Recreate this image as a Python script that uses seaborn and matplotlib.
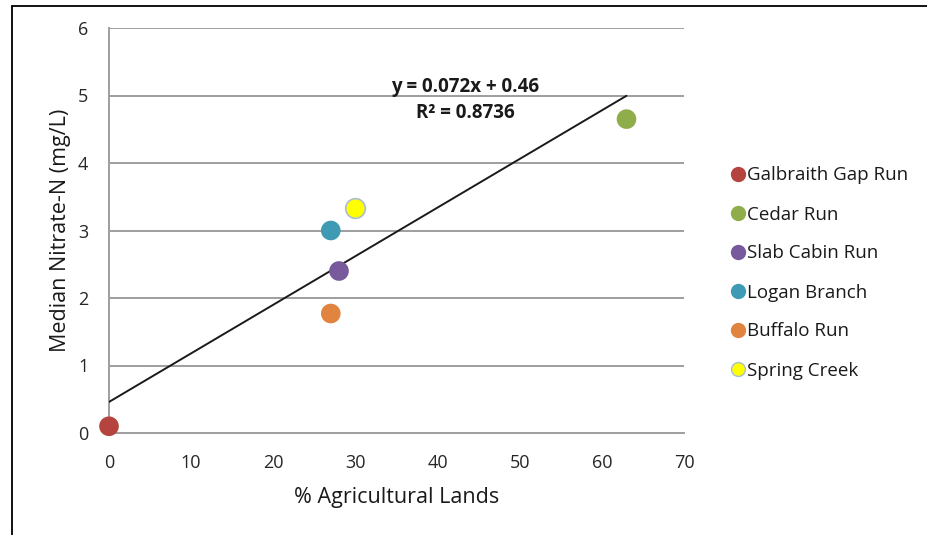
import matplotlib
matplotlib.use("Agg")
import matplotlib.pyplot as plt
from matplotlib.lines import Line2D
import seaborn as sns
import pandas as pd
import numpy as np

# Watershed data
streams = ["Galbraith Gap Run", "Cedar Run", "Slab Cabin Run",
           "Logan Branch", "Buffalo Run", "Spring Creek"]
ag_pct = [0, 63, 28, 27, 27, 30]
nitrate = [0.1, 4.65, 2.4, 3.0, 1.77, 3.34]
colors = ["#b5443f", "#8fae4b", "#77599c", "#3f9bb3", "#e0843f", "#ffff00"]
edges = ["none", "none", "none", "none", "none", "#a9bfcf"]

# Linear trendline coefficients
slope, intercept = 0.072, 0.46
r_squared = 0.8736

x_ticks = [0, 10, 20, 30, 40, 50, 60, 70]
y_ticks = [0, 1, 2, 3, 4, 5, 6]

df = pd.DataFrame({"stream": streams, "ag": ag_pct, "no3": nitrate})

sns.set_theme(style="white")
plt.rcParams["font.family"] = ["Open Sans", "DejaVu Sans"]

W, H = 928, 535
fig = plt.figure(figsize=(W / 100, H / 100), dpi=100)
ax = fig.add_axes([109 / W, 1 - 433 / H, 575 / W, 405 / H])

# Trendline drawn across the data range
xl = np.array([min(ag_pct), max(ag_pct)])
ax.plot(xl, slope * xl + intercept, color="#1a1a1a", lw=1.4, zorder=3)

palette = dict(zip(streams, colors))
for s, ec in zip(streams, edges):
    sub = df[df["stream"] == s]
    sns.scatterplot(data=sub, x="ag", y="no3", color=palette[s], s=200,
                    edgecolor=ec, linewidth=1.2 if ec != "none" else 0,
                    ax=ax, zorder=4, label=s, legend=False)

ax.set_xlim(0, 70)
ax.set_ylim(0, 6)
ax.set_xticks(x_ticks)
ax.set_yticks(y_ticks)
ax.set_xticklabels([str(v) for v in x_ticks])
ax.set_yticklabels([str(v) for v in y_ticks])
ax.tick_params(axis="both", length=0, labelsize=13, labelcolor="#262626")
ax.tick_params(axis="x", pad=15)
ax.tick_params(axis="y", pad=15)
for v in y_ticks[1:]:
    ax.axhline(v, color="#9e9e9e", lw=1.4, zorder=1)
for side in ["top", "right"]:
    ax.spines[side].set_visible(False)
for side in ["left", "bottom"]:
    ax.spines[side].set_color("#9e9e9e")
    ax.spines[side].set_linewidth(1.4)
for c in ax.collections:
    c.set_clip_on(False)

ax.set_xlabel("% Agricultural Lands", fontsize=15.5, color="#1a1a1a", labelpad=11)
ax.set_ylabel("Median Nitrate-N (mg/L)", fontsize=15.5, color="#1a1a1a", labelpad=5)

ax.text(465, H - 87, f"y = {slope}x + {intercept}", transform=None,
        ha="center", va="center", fontsize=13.5, fontweight="bold", color="#1a1a1a")
ax.text(465, H - 113, f"R² = {r_squared}", transform=None,
        ha="center", va="center", fontsize=13.5, fontweight="bold", color="#1a1a1a")

handles = [Line2D([0], [0], marker="o", linestyle="none", markersize=10,
                  markerfacecolor=c, markeredgecolor=(e if e != "none" else c),
                  markeredgewidth=1.0)
           for c, e in zip(colors, edges)]
leg = fig.legend(handles, streams, loc="upper left",
                 bbox_to_anchor=(724 / W, 1 - 159 / H), frameon=False,
                 fontsize=13.5, handlelength=0.7, handletextpad=0.15,
                 labelspacing=1.12, borderaxespad=0)
for t in leg.get_texts():
    t.set_color("#1a1a1a")

# Outer chart border (left and top edges)
fig.add_artist(Line2D([12.5 / W, 12.5 / W], [0, 1 - 5.5 / H],
                      transform=fig.transFigure, color="black", lw=1.3))
fig.add_artist(Line2D([12.5 / W, 1], [1 - 5.5 / H, 1 - 5.5 / H],
                      transform=fig.transFigure, color="black", lw=1.3))

fig.savefig("out.png", dpi=100)
